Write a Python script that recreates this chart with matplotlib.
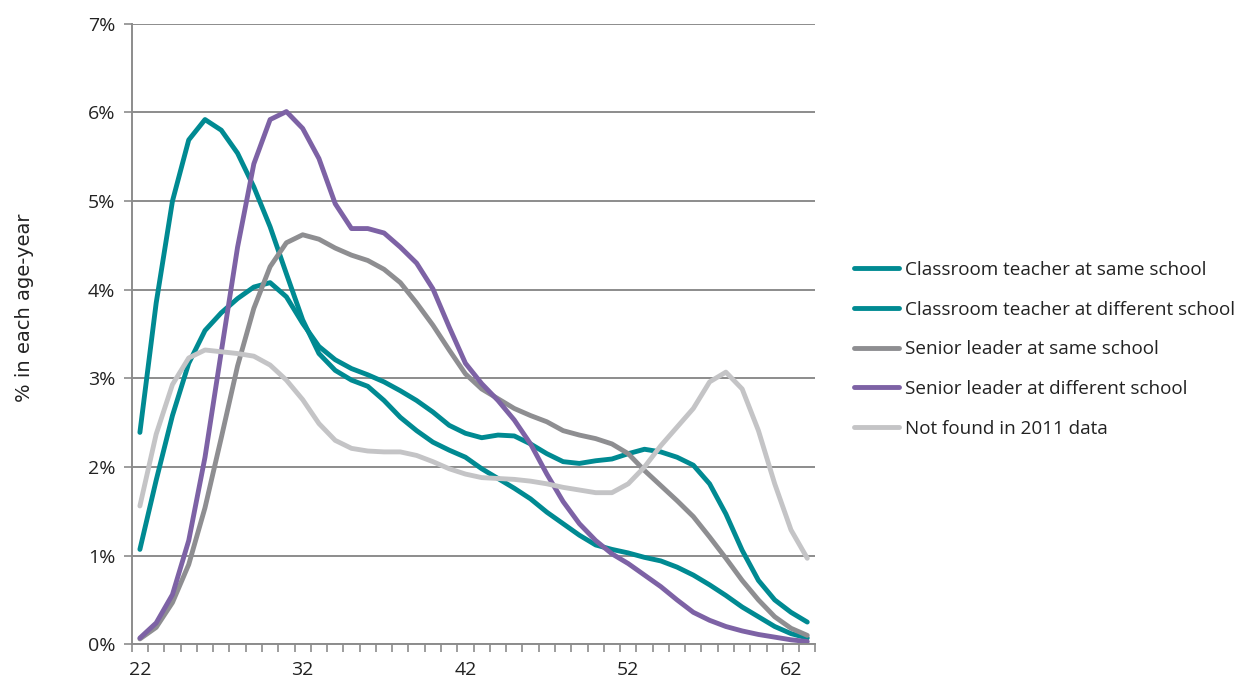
import numpy as np
import matplotlib
matplotlib.use("Agg")
from matplotlib import pyplot as plt
from matplotlib.ticker import FuncFormatter

plt.rcParams['font.family'] = ['Open Sans', 'DejaVu Sans']

ages = list(range(22, 64))

# % in each age-year
ct_same = [1.07, 1.85, 2.58, 3.17, 3.54, 3.74, 3.90, 4.03, 4.08, 3.92, 3.62, 3.36, 3.21, 3.11, 3.04,
           2.96, 2.86, 2.75, 2.62, 2.47, 2.38, 2.33, 2.36, 2.35, 2.26, 2.15, 2.06, 2.04, 2.07, 2.09,
           2.15, 2.20, 2.17, 2.11, 2.02, 1.81, 1.47, 1.06, 0.72, 0.50, 0.36, 0.25]
ct_diff = [2.39, 3.85, 5.00, 5.69, 5.92, 5.80, 5.54, 5.16, 4.71, 4.18, 3.66, 3.28, 3.09, 2.98, 2.91,
           2.75, 2.56, 2.41, 2.28, 2.19, 2.11, 1.98, 1.87, 1.76, 1.64, 1.49, 1.36, 1.23, 1.12, 1.07,
           1.03, 0.98, 0.94, 0.87, 0.78, 0.67, 0.55, 0.42, 0.31, 0.20, 0.12, 0.07]
sl_same = [0.06, 0.19, 0.47, 0.90, 1.54, 2.33, 3.14, 3.79, 4.26, 4.53, 4.62, 4.57, 4.47, 4.39, 4.33,
           4.23, 4.08, 3.85, 3.60, 3.32, 3.05, 2.88, 2.77, 2.66, 2.58, 2.51, 2.41, 2.36, 2.32, 2.26,
           2.15, 1.96, 1.79, 1.62, 1.44, 1.21, 0.97, 0.72, 0.50, 0.31, 0.18, 0.10]
sl_diff = [0.07, 0.24, 0.56, 1.17, 2.11, 3.30, 4.48, 5.42, 5.92, 6.01, 5.82, 5.48, 4.97, 4.69, 4.69,
           4.64, 4.48, 4.30, 4.01, 3.58, 3.17, 2.94, 2.75, 2.53, 2.26, 1.92, 1.61, 1.36, 1.17, 1.02,
           0.91, 0.78, 0.65, 0.50, 0.36, 0.27, 0.20, 0.15, 0.11, 0.08, 0.05, 0.03]
not_found = [1.56, 2.37, 2.93, 3.23, 3.32, 3.30, 3.28, 3.25, 3.15, 2.98, 2.76, 2.49, 2.30, 2.21, 2.18,
             2.17, 2.17, 2.13, 2.06, 1.98, 1.92, 1.88, 1.87, 1.86, 1.84, 1.81, 1.77, 1.74, 1.71, 1.71,
             1.81, 2.00, 2.24, 2.45, 2.66, 2.96, 3.07, 2.88, 2.41, 1.81, 1.29, 0.97]

labels = ['Classroom teacher at same school', 'Classroom teacher at different school',
          'Senior leader at same school', 'Senior leader at different school',
          'Not found in 2011 data']
series = [ct_same, ct_diff, sl_same, sl_diff, not_found]
colors = ['#008A92', '#008A92', '#8E8E91', '#7D62A5', '#C4C4C6']

fig = plt.figure(figsize=(12.43, 6.81), dpi=100)
ax = fig.add_axes([0.106, 0.054, 0.55, 0.911])

for vals, lab, col in zip(series, labels, colors):
    ax.plot(ages, vals, color=col, lw=3.5, label=lab, solid_capstyle='round', solid_joinstyle='round')

ax.set_xlim(21.5, 63.5)
ax.set_ylim(0, 7)
ax.set_yticks(range(0, 8))
ax.yaxis.set_major_formatter(FuncFormatter(lambda v, p: '%d%%' % v))
ax.set_xticks([22, 32, 42, 52, 62])
ax.set_xticks(np.arange(21.5, 64, 1), minor=True)
ax.tick_params(axis='x', which='major', length=0, pad=12, labelsize=14, colors='#222222')
ax.tick_params(axis='x', which='minor', length=6, width=1.2, color='#8c8c8c')
ax.tick_params(axis='y', length=6, width=1.2, color='#8c8c8c', labelsize=14, labelcolor='#222222', pad=6)

ax.grid(axis='y', color='#8c8c8c', lw=1.4)
ax.set_axisbelow(True)
for s in ['top', 'right']:
    ax.spines[s].set_visible(False)
for s in ['left', 'bottom']:
    ax.spines[s].set_color('#8c8c8c')
    ax.spines[s].set_linewidth(1.4)

fig.text(25 / 1243, 1 - 308 / 681, '% in each age-year', rotation=90, va='center', ha='center',
         fontsize=14, color='#222222', family=['Liberation Sans Narrow', 'DejaVu Sans'])

fig.legend(loc='center left', bbox_to_anchor=(0.687, 0.487), frameon=False, fontsize=13.6,
           handlelength=2.4, handletextpad=0.3, labelspacing=1.15, borderpad=0, borderaxespad=0,
           labelcolor='#222222')

fig.savefig('out.png', dpi=100)
